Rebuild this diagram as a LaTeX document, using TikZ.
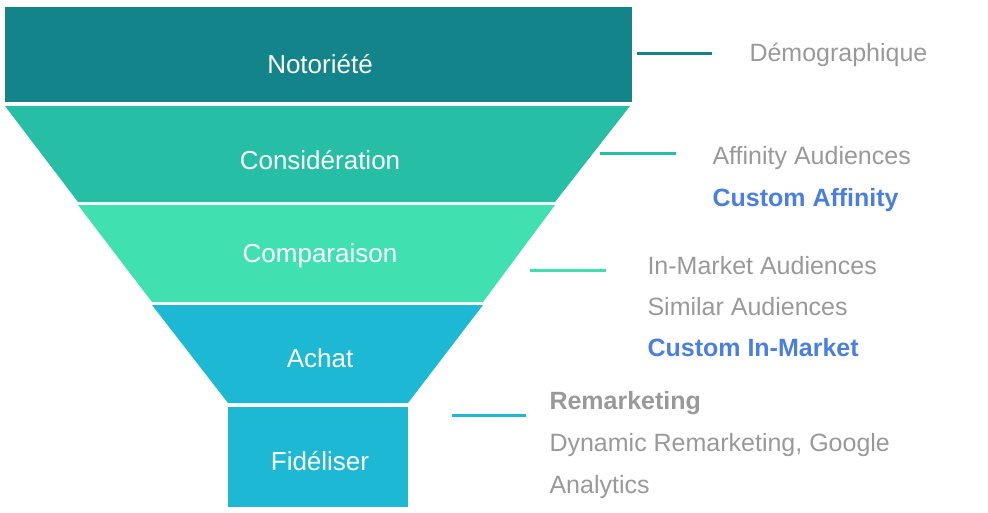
\documentclass[tikz,border=0pt]{standalone}
\usepackage{fontspec}
\setmainfont{Liberation Sans}
\usepackage{tikz}

\definecolor{tealdark}{HTML}{12848A}
\definecolor{tealmid}{HTML}{26BFA5}
\definecolor{mint}{HTML}{40E0B0}
\definecolor{cyanish}{HTML}{1CB8D4}
\definecolor{greytext}{HTML}{999999}
\definecolor{bluetext}{HTML}{4A7FE0}

\tikzset{
  stage/.style={font=\fontsize{26}{30}\selectfont, text=white},
  tick/.style={line width=3pt},
  note/.style={font=\fontsize{25}{30}\selectfont, text=greytext, anchor=west},
  hot/.style={note, text=bluetext, font=\fontsize{25}{30}\selectfont\bfseries}
}

\begin{document}
\begin{tikzpicture}[x=1pt,y=-1pt]

  \useasboundingbox (0,0) rectangle (988,512);

  % funnel bands
  \fill[tealdark] (5,7) rectangle (632,102);
  \fill[tealmid] (5,106) -- (630,106) -- (555,202) -- (78,202) -- cycle;
  \fill[mint] (78,205) -- (555,205) -- (483,302) -- (152,302) -- cycle;
  \fill[cyanish] (152,305) -- (483,305) -- (408,403) -- (228,403) -- cycle;
  \fill[cyanish] (228,407) rectangle (408,507);

  \node[stage] (notoriete) at (320,64) {Notoriété};
  \node[stage] (consideration) at (320,160) {Considération};
  \node[stage] (comparaison) at (320,256) {Comparaison};
  \node[stage] (achat) at (320,358) {Achat};
  \node[stage] (fideliser) at (320,461) {Fidéliser};

  % ticks
  \draw[tick, tealdark] (637,53) -- (712,53);
  \draw[tick, tealmid] (600,153) -- (676,153);
  \draw[tick, mint] (530,270) -- (606,270);
  \draw[tick, cyanish] (452,415) -- (526,415);

  % notes
  \node[note] (demo) at (746,55) {Démographique};
  \node[note] (affinity) at (709,158) {Affinity Audiences};
  \node[hot] (caffinity) at (709,200) {Custom Affinity};
  \node[note] (inmarket) at (644,266) {In-Market Audiences};
  \node[note] (similar) at (644,307) {Similar Audiences};
  \node[hot] (cinmarket) at (644,348) {Custom In-Market};
  \node[note, font=\fontsize{25}{30}\selectfont\bfseries] (remarketing) at (546,403) {Remarketing};
  \node[note] (dynamic) at (546,445) {Dynamic Remarketing, Google};
  \node[note] (analytics) at (546,487) {Analytics};

\end{tikzpicture}
\end{document}
